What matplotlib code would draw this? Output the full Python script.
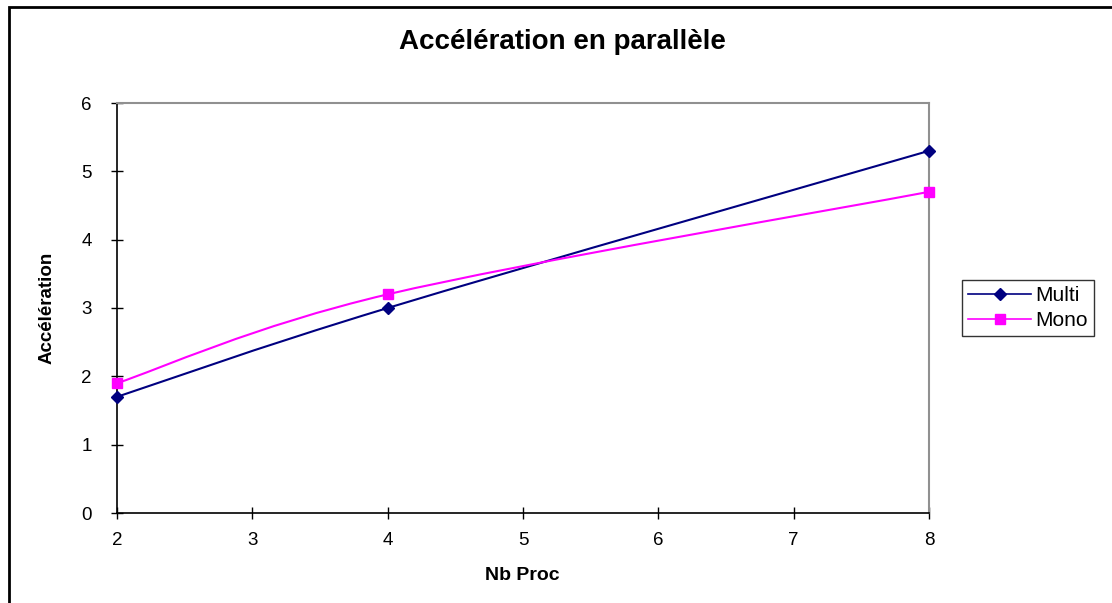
import numpy as np
import matplotlib
matplotlib.use("Agg")
import matplotlib.pyplot as plt
from matplotlib.path import Path
from matplotlib.patches import PathPatch, Rectangle
from matplotlib.lines import Line2D

plt.rcParams.update({"font.family": ["Liberation Sans", "DejaVu Sans"]})

nb_proc = [2, 4, 8]
multi = [1.7, 3.0, 5.3]
mono = [1.9, 3.2, 4.7]
NAVY, MAGENTA = "#000080", "#ff00ff"


def smooth_path(xs, ys):
    # Excel-style smoothed line: cubic Bezier through the data points
    p = np.column_stack([xs, ys]).astype(float)
    verts, codes = [p[0]], [Path.MOVETO]
    n = len(p)
    for i in range(n - 1):
        p0 = p[i - 1] if i > 0 else p[i]
        p3 = p[i + 2] if i + 2 < n else p[i + 1]
        c1 = p[i] + (p[i + 1] - p0) / 6
        c2 = p[i + 1] - (p3 - p[i]) / 6
        verts += [c1, c2, p[i + 1]]
        codes += [Path.CURVE4] * 3
    return Path(verts, codes)


fig = plt.figure(figsize=(11.12, 6.03), dpi=100)
fig.patches.append(Rectangle((9 / 1112, -0.1), 1.2, 1 - 7 / 603 + 0.1,
                             transform=fig.transFigure, fill=False,
                             edgecolor="black", lw=2))
ax = fig.add_axes([117 / 1112, 1 - 513 / 603, 812 / 1112, 410 / 603])

for ys, col, mk, ms in [(multi, NAVY, "D", 6.5), (mono, MAGENTA, "s", 7)]:
    ax.add_patch(PathPatch(smooth_path(nb_proc, ys), fill=False, edgecolor=col,
                           lw=1.5, clip_on=False, zorder=3))
    ax.plot(nb_proc, ys, mk, color=col, ms=ms, clip_on=False, zorder=4)

ax.set_xlim(2, 8)
ax.set_ylim(0, 6)
ax.set_xticks(range(2, 9))
ax.set_yticks(range(0, 7))
ax.tick_params(direction="inout", length=8, width=1, labelsize=13.5,
               color="black")
ax.tick_params(axis="x", pad=10)
ax.tick_params(axis="y", pad=14)
for s in ["top", "right"]:
    ax.spines[s].set_color("#909090")
    ax.spines[s].set_linewidth(1.5)
for s in ["left", "bottom"]:
    ax.spines[s].set_linewidth(1.2)

fig.text(562 / 1112, 1 - 42 / 603, "Accélération en parallèle", ha="center",
         va="center", fontsize=20, fontweight="bold")
fig.text(522 / 1112, 1 - 575 / 603, "Nb Proc", ha="center", va="center",
         fontsize=14, fontweight="bold")
fig.text(47 / 1112, 1 - 308 / 603, "Accélération", ha="center", va="center",
         rotation=90, fontsize=13.5, fontweight="bold")

handles = [Line2D([], [], color=NAVY, marker="D", ms=6.5, lw=1.2, label="Multi"),
           Line2D([], [], color=MAGENTA, marker="s", ms=7, lw=1.2, label="Mono")]
leg = fig.legend(handles=handles, loc="center left",
                 bbox_to_anchor=(962 / 1112, 1 - 308 / 603), fontsize=15,
                 frameon=True, fancybox=False, edgecolor="black",
                 borderpad=0.3, handlelength=3.0, handletextpad=0.2,
                 labelspacing=0.3, borderaxespad=0)
leg.get_frame().set_linewidth(1)

fig.savefig("out.png", dpi=100)
